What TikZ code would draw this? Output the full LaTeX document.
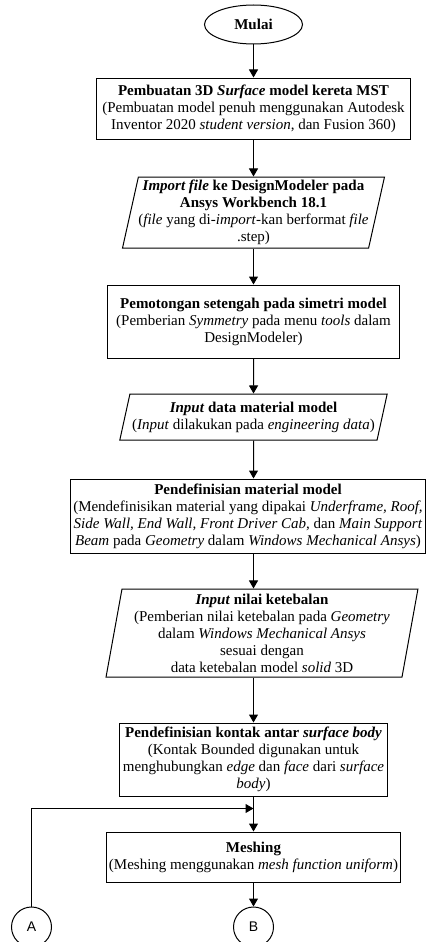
\documentclass[tikz,border=0pt]{standalone}
\usepackage{fontspec}
\setmainfont{Liberation Serif}
\newfontfamily\connfont{Liberation Sans}
\usepackage{tikz}
\usetikzlibrary{arrows.meta, positioning, shapes.geometric, calc}

\begin{document}
\begin{tikzpicture}[
  x=1pt, y=-1pt,
  box/.style={rectangle, draw, line width=1pt, align=center, inner sep=2pt,
              font=\fontsize{15}{17}\selectfont},
  iobox/.style={trapezium, trapezium stretches=true, draw, line width=1pt,
              align=center, inner xsep=0pt, inner ysep=2pt,
              font=\fontsize{15}{17}\selectfont},
  term/.style={ellipse, draw, line width=1pt, inner sep=0pt,
              font=\fontsize{15}{17}\selectfont},
  conn/.style={circle, draw, line width=1pt, minimum size=40pt, inner sep=0pt,
              font=\connfont\fontsize{14}{16}\selectfont},
  arr/.style={-{Triangle[length=8pt,width=9pt]}, line width=1pt}
]
  \useasboundingbox (0,0) rectangle (427,942);

  %% -- Start
  \node[term, minimum width=98pt, minimum height=39pt] (mulai) at (253.5,24.5) {\textbf{Mulai}};

  %% -- Model preparation
  \node[box, minimum width=314pt, minimum height=61pt] (surf) at (253.5,108.5)
    {\textbf{Pembuatan 3D \textit{Surface} model kereta MST}\\
     (Pembuatan model penuh menggunakan Autodesk\\
     Inventor 2020 \textit{student version}, dan Fusion 360)};
  \node[iobox, trapezium left angle=77, trapezium right angle=103,
        minimum width=256pt, minimum height=71pt] (impor) at (253.5,212.5)
    {\textbf{\textit{Import file} ke DesignModeler pada}\\
     \textbf{Ansys Workbench 18.1}\\
     (\textit{file} yang di-\textit{import}-kan berformat \textit{file}\\
     .step)};
  \node[box, minimum width=292pt, minimum height=73pt] (potong) at (253.5,321.5)
    {\textbf{Pemotongan setengah pada simetri model}\\
     (Pemberian \textit{Symmetry} pada menu \textit{tools} dalam\\
     DesignModeler)};

  %% -- Material and thickness
  \node[iobox, trapezium left angle=74, trapezium right angle=106,
        minimum width=268pt, minimum height=46pt] (inmat) at (253.5,417)
    {\textbf{\textit{Input} data material model}\\
     (\textit{Input} dilakukan pada \textit{engineering data})};
  \node[box, minimum width=355pt, minimum height=74pt] (defmat) at (248,516)
    {\textbf{Pendefinisian material model}\\
     (Mendefinisikan material yang dipakai \textit{Underframe, Roof,}\\
     \textit{Side Wall, End Wall, Front Driver Cab}, dan \textit{Main Support}\\
     \textit{Beam} pada \textit{Geometry} dalam \textit{Windows Mechanical Ansys})};
  \node[iobox, trapezium left angle=80, trapezium right angle=100,
        minimum width=312pt, minimum height=88pt] (tebal) at (262,633)
    {\textbf{\textit{Input} nilai ketebalan}\\
     (Pemberian nilai ketebalan pada \textit{Geometry}\\
     dalam \textit{Windows Mechanical Ansys}\\
     sesuai dengan\\
     data ketebalan model \textit{solid} 3D};

  %% -- Contact and mesh
  \node[box, minimum width=268pt, minimum height=73pt] (kontak) at (253.5,759.5)
    {\textbf{Pendefinisian kontak antar \textit{surface body}}\\
     (Kontak Bounded digunakan untuk\\
     menghubungkan \textit{edge} dan \textit{face} dari \textit{surface}\\
     \textit{body})};
  \node[box, minimum width=292pt, minimum height=50pt] (mesh) at (253.5,857)
    {\textbf{Meshing}\\
     (Meshing menggunakan \textit{mesh function uniform})};

  %% -- Connectors
  \node[conn] (A) at (31.5,927) {A};
  \node[conn] (B) at (253.5,927) {B};
  \coordinate (join) at (253.5,808.5);

  \draw[arr] (mulai) -- (surf);
  \draw[arr] (surf) -- (impor);
  \draw[arr] (impor) -- (potong);
  \draw[arr] (potong) -- (inmat);
  \draw[arr] (inmat) -- (inmat |- defmat.north);
  \draw[arr] (inmat |- defmat.south) -- (inmat |- tebal.north);
  \draw[arr] (inmat |- tebal.south) -- (kontak);
  \draw[arr] (kontak) -- (mesh);
  \draw[arr] (mesh) -- (B);
  \draw[arr] (A) |- (join);

\end{tikzpicture}
\end{document}
